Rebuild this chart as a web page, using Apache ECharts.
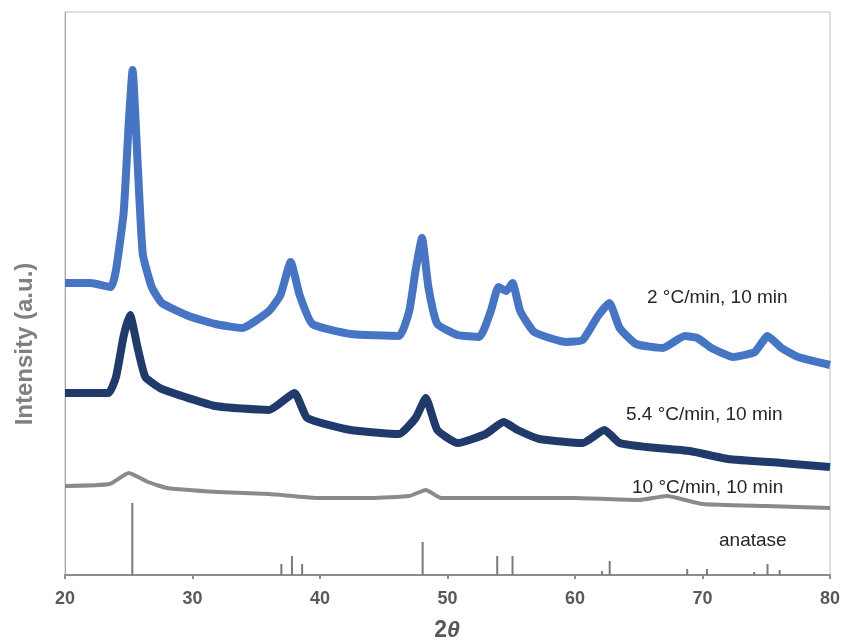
<!DOCTYPE html>
<html>
<head>
<meta charset="utf-8">
<script src="https://cdn.jsdelivr.net/npm/echarts@6/dist/echarts.min.js"></script>
<style>
  html, body { margin: 0; padding: 0; background: #fff; }
  #chart { width: 845px; height: 643px; }
</style>
</head>
<body>
<div id="chart"></div>
<script>
// 2-theta positions (deg) and offset intensities (a.u.)
const angles2C = [20, 22, 23.6, 24, 24.6, 25, 25.3, 25.7, 26.1, 26.8, 27.6, 29.7, 31.8, 33.9, 36, 36.9, 37.7, 38.4, 39.4, 42.4, 46.2, 47, 47.5, 48, 48.5, 49.2, 50.8, 52.5, 53.4, 54, 54.6, 55.1, 55.7, 56.8, 59.3, 60.6, 61.8, 62.7, 63.5, 64.8, 66.9, 68.6, 69.6, 70.7, 72.4, 74.1, 75.1, 76.2, 77.5, 80];
const int2C = [292, 292, 288, 305, 362, 452, 505, 411, 321, 288, 272, 259, 251, 247, 264, 280, 313, 280, 251, 241, 239, 264, 305, 337, 288, 251, 240, 238, 264, 288, 284, 292, 264, 243, 233, 235, 259, 272, 247, 231, 227, 239, 237, 227, 218, 223, 239, 227, 218, 210];

const angles54C = [20, 23.4, 24, 24.6, 25.1, 25.7, 26.3, 27.6, 31.8, 36, 38, 39, 42.4, 46.2, 47.5, 48.3, 49.2, 50.8, 53, 54.4, 55.5, 57.2, 60.6, 62.3, 63.5, 65.6, 69, 72, 76.2, 80];
const int54C = [182, 182, 198, 239, 260, 227, 198, 186, 169, 165, 182, 157, 145, 141, 157, 177, 145, 132, 141, 153, 145, 136, 132, 145, 132, 128, 124, 116, 112, 108];

const angles10C = [20, 23.5, 25, 26.5, 28, 32, 36, 40, 44, 47, 48.3, 49.5, 55, 60, 65, 67.2, 70, 75, 80];
const int10C = [89, 91, 102, 93, 87, 83, 81, 77, 77, 79, 85, 77, 77, 77, 75, 79, 71, 69, 67];

// anatase reference lines
const anataseAngles = [25.28, 36.97, 37.8, 38.6, 48.05, 53.9, 55.1, 62.12, 62.72, 68.8, 70.35, 74.05, 75.1, 76.05];
const anataseHeights = [72, 11, 19, 11, 33, 19, 19, 4, 14, 6, 6, 3, 11, 5];

const xTicks = [20, 30, 40, 50, 60, 70, 80];
const seriesLabels = ['2 °C/min, 10 min', '5.4 °C/min, 10 min', '10 °C/min, 10 min', 'anatase'];

const zip = (xs, ys) => xs.map((x, i) => [x, ys[i]]);

const chart = echarts.init(document.getElementById('chart'));
const font = '"Liberation Sans", Arial, sans-serif';

const traceLine = (name, xs, ys, color, width) => ({
  name,
  type: 'line',
  data: zip(xs, ys),
  symbol: 'none',
  smooth: 0.15,
  lineStyle: { color, width, join: 'round' },
  silent: true,
  z: 3
});

chart.setOption({
  animation: false,
  backgroundColor: '#fff',
  grid: {
    left: 65, right: 15, top: 12, bottom: 68,
    show: true, borderColor: '#bfbfbf', borderWidth: 1
  },
  xAxis: {
    type: 'value', min: 20, max: 80, interval: 10,
    axisLine: { lineStyle: { color: '#8c8c8c', width: 2 } },
    axisTick: { show: true, length: 4, lineStyle: { color: '#8c8c8c', width: 2 } },
    axisLabel: {
      color: '#595959', fontSize: 18, fontWeight: 'bold', fontFamily: font, margin: 15,
      formatter: v => xTicks.includes(v) ? String(v) : ''
    },
    splitLine: { show: false }
  },
  yAxis: {
    type: 'value', min: 0, max: 563,
    axisLine: { show: true, lineStyle: { color: '#a6a6a6', width: 1 } },
    axisTick: { show: false },
    axisLabel: { show: false },
    splitLine: { show: false }
  },
  series: [
    traceLine(seriesLabels[0], angles2C, int2C, '#4675c6', 8),
    traceLine(seriesLabels[1], angles54C, int54C, '#1f3a6b', 8),
    traceLine(seriesLabels[2], angles10C, int10C, '#8a8a8a', 4),
    {
      name: seriesLabels[3],
      type: 'custom',
      silent: true,
      data: zip(anataseAngles, anataseHeights),
      renderItem: (params, api) => {
        const p0 = api.coord([api.value(0), 0]);
        const p1 = api.coord([api.value(0), api.value(1)]);
        return {
          type: 'line',
          shape: { x1: p0[0], y1: p0[1], x2: p1[0], y2: p1[1] },
          style: { stroke: '#7a7a7a', lineWidth: 2 }
        };
      },
      z: 2
    }
  ],
  graphic: [
    { type: 'text', left: 647, top: 288, style: { text: seriesLabels[0], fill: '#262626', font: `19px ${font}` } },
    { type: 'text', left: 626, top: 405, style: { text: seriesLabels[1], fill: '#262626', font: `19px ${font}` } },
    { type: 'text', left: 632, top: 478, style: { text: seriesLabels[2], fill: '#262626', font: `19px ${font}` } },
    { type: 'text', left: 719, top: 531, style: { text: seriesLabels[3], fill: '#262626', font: `19px ${font}` } },
    {
      type: 'text', x: 25, y: 344, rotation: Math.PI / 2,
      style: {
        text: 'Intensity (a.u.)', fill: '#808080', font: `bold 24px ${font}`,
        align: 'center', verticalAlign: 'middle'
      }
    },
    {
      type: 'text', x: 447, y: 631,
      style: {
        text: '{n|2}{t|θ}',
        align: 'center', verticalAlign: 'middle',
        rich: {
          n: { fill: '#595959', font: `bold 23px ${font}` },
          t: { fill: '#595959', font: `italic bold 23px ${font}` }
        }
      }
    }
  ]
});
</script>
</body>
</html>
